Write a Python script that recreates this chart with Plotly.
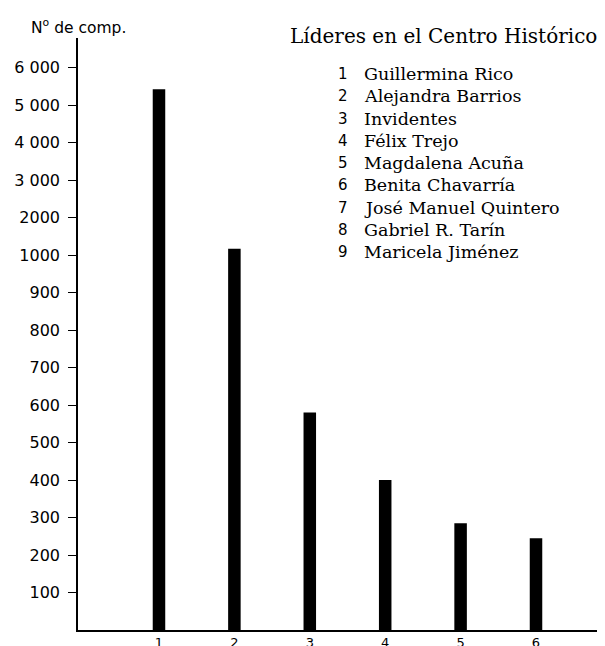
import plotly.graph_objects as go

# ---- data ----
categories = ["1", "2", "3", "4", "5", "6"]
values = [5420, 1170, 580, 400, 285, 245]
tick_values = [100, 200, 300, 400, 500, 600, 700, 800, 900, 1000,
               2000, 3000, 4000, 5000, 6000]
tick_labels = ["100", "200", "300", "400", "500", "600", "700", "800", "900",
               "1000", "2000", "3 000", "4 000", "5 000", "6 000"]
legend_numbers = ["1", "2", "3", "4", "5", "6", "7", "8", "9"]
legend_names = ["Guillermina Rico", "Alejandra Barrios", "Invidentes",
                "Félix Trejo", "Magdalena Acuña", "Benita Chavarría",
                "José Manuel Quintero", "Gabriel R. Tarín", "Maricela Jiménez"]
title_text = "Líderes en el Centro Histórico"
y_title = "N<sup>o</sup> de comp."


# broken scale: 0-1000 in steps of 100, then 1000-6000 in steps of 1000
def scale(v):
    return v / 100.0 if v <= 1000 else 10 + (v - 1000) / 1000.0


# page has an 8px body margin; figure fills the rest of the 605x646 window
OFF = 8
W, H = 605 - OFF, 646 - OFF
L, R, T, B = 78 - OFF, 0, 38 - OFF, 646 - 630
pw, ph = W - L - R, H - T - B


def px(x):  # page pixel -> paper
    return (x - OFF - L) / pw


def py(y):
    return (H - B - (y - OFF)) / ph


fig = go.Figure()
fig.add_trace(go.Bar(
    x=[int(c) for c in categories],
    y=[scale(v) for v in values],
    customdata=values,
    hovertemplate="%{x}: %{customdata}<extra></extra>",
    width=0.166,
    marker=dict(color="black", line=dict(width=0)),
))

sans = "DejaVu Sans"
serif = "DejaVu Serif"

fig.update_layout(
    width=W, height=H,
    margin=dict(l=L, r=R, t=T, b=B, autoexpand=False),
    plot_bgcolor="white", paper_bgcolor="white",
    showlegend=False,
    xaxis=dict(
        range=[-0.074, 6.915],
        tickvals=[int(c) for c in categories],
        ticktext=categories,
        showgrid=False, zeroline=False, automargin=False,
        showline=True, linecolor="black", linewidth=1.5,
        ticks="", ticklabelstandoff=0,
        tickfont=dict(family=sans, size=13, color="black"),
    ),
    yaxis=dict(
        range=[0, 15.79],
        tickvals=[scale(v) for v in tick_values],
        ticktext=tick_labels,
        showgrid=False, zeroline=False, automargin=False,
        showline=True, linecolor="black", linewidth=1.5,
        ticks="outside", ticklen=8, tickwidth=1.2, tickcolor="black",
        ticklabelstandoff=5,
        tickfont=dict(family=sans, size=16, color="black"),
    ),
)

annotations = [
    dict(text=y_title, x=px(29), y=py(26), xanchor="left", yanchor="middle",
         font=dict(family=sans, size=15.5, color="black")),
    dict(text=title_text, x=px(288), y=py(36), xanchor="left", yanchor="middle",
         font=dict(family=serif, size=20, color="black")),
]
for i, (n, name) in enumerate(zip(legend_numbers, legend_names)):
    yy = 74 + 22.3 * i
    annotations.append(dict(text=n, x=px(343), y=py(yy), xanchor="center",
                            yanchor="middle",
                            font=dict(family=sans, size=15, color="black")))
    annotations.append(dict(text=name, x=px(362), y=py(yy), xanchor="left",
                            yanchor="middle",
                            font=dict(family=serif, size=17.5, color="black")))
for a in annotations:
    a.update(xref="paper", yref="paper", showarrow=False)
fig.update_layout(annotations=annotations)

fig.write_html("out.html")
